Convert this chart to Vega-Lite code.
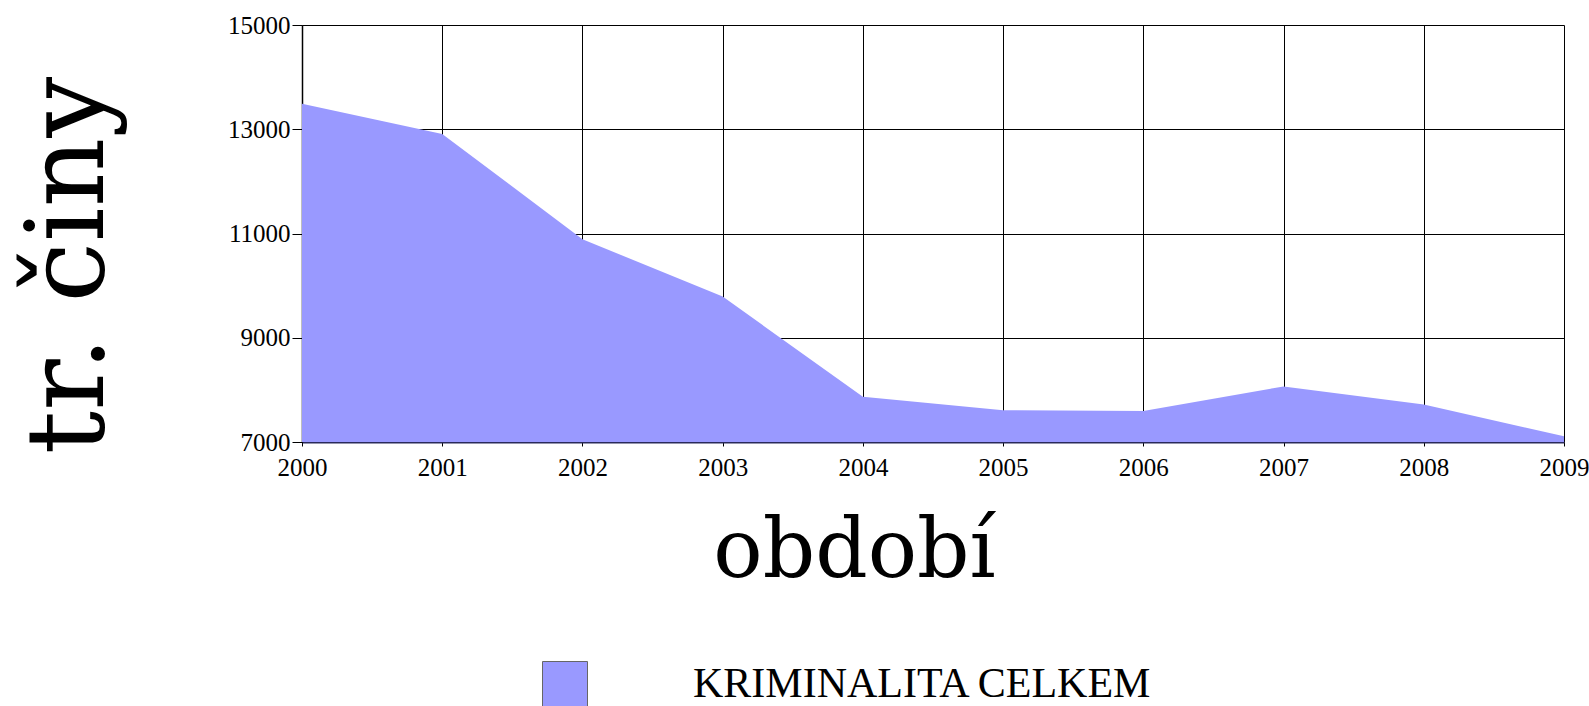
{
  "$schema": "https://vega.github.io/schema/vega-lite/v6.json",
  "autosize": "none",
  "padding": {"left": 302, "top": 25, "right": 25, "bottom": 264},
  "width": 1262,
  "height": 417,
  "background": "white",
  "config": {
    "view": {"stroke": null},
    "axis": {
      "labelFont": "Liberation Serif",
      "labelFontSize": 25,
      "labelColor": "black",
      "gridColor": "black",
      "gridOpacity": 1,
      "gridWidth": 1,
      "tickColor": "black",
      "domainColor": "black"
    }
  },
  "data": {
    "values": [
      {"rok": 2000, "pocet": 13490, "serie": "KRIMINALITA CELKEM"},
      {"rok": 2001, "pocet": 12910, "serie": "KRIMINALITA CELKEM"},
      {"rok": 2002, "pocet": 10890, "serie": "KRIMINALITA CELKEM"},
      {"rok": 2003, "pocet": 9790, "serie": "KRIMINALITA CELKEM"},
      {"rok": 2004, "pocet": 7870, "serie": "KRIMINALITA CELKEM"},
      {"rok": 2005, "pocet": 7610, "serie": "KRIMINALITA CELKEM"},
      {"rok": 2006, "pocet": 7595, "serie": "KRIMINALITA CELKEM"},
      {"rok": 2007, "pocet": 8065, "serie": "KRIMINALITA CELKEM"},
      {"rok": 2008, "pocet": 7720, "serie": "KRIMINALITA CELKEM"},
      {"rok": 2009, "pocet": 7110, "serie": "KRIMINALITA CELKEM"}
    ]
  },
  "mark": {"type": "area", "clip": true, "opacity": 1},
  "encoding": {
    "x": {
      "field": "rok",
      "type": "quantitative",
      "scale": {"domain": [2000, 2009], "nice": false, "zero": false},
      "axis": {
        "values": [2000, 2001, 2002, 2003, 2004, 2005, 2006, 2007, 2008, 2009],
        "format": "d",
        "tickSize": 4,
        "labelPadding": 9,
        "labelFlush": false,
        "labelOverlap": false,
        "domainColor": "#2a2a5a",
        "domainWidth": 2,
        "title": "období",
        "titleFont": "DejaVu Serif",
        "titleFontSize": 82,
        "titleFontWeight": "normal",
        "titleColor": "black",
        "titleAnchor": "start",
        "titleAlign": "center",
        "titleBaseline": "alphabetic",
        "titleX": 552,
        "titleY": 134
      }
    },
    "y": {
      "field": "pocet",
      "type": "quantitative",
      "scale": {"domain": [7000, 15000], "nice": false, "zero": false},
      "axis": {
        "values": [7000, 9000, 11000, 13000, 15000],
        "format": "d",
        "tickSize": 10,
        "labelPadding": 2,
        "labelBaseline": "middle",
        "labelFlush": false,
        "domainWidth": 1.5,
        "title": "tr. činy",
        "titleFont": "DejaVu Serif",
        "titleFontSize": 108,
        "titleFontWeight": "normal",
        "titleColor": "black",
        "titleAngle": 270,
        "titleAlign": "center",
        "titleBaseline": "alphabetic",
        "titleX": -200,
        "titleY": 240
      }
    },
    "color": {
      "field": "serie",
      "type": "nominal",
      "scale": {"range": ["#9999ff"]},
      "legend": {
        "orient": "none",
        "legendX": 240,
        "legendY": 636,
        "title": null,
        "padding": 0,
        "symbolType": "square",
        "symbolSize": 2025,
        "symbolStrokeColor": "#666666",
        "symbolStrokeWidth": 1,
        "symbolOpacity": 1,
        "labelFont": "Liberation Serif",
        "labelFontSize": 42,
        "labelColor": "black",
        "labelOffset": 105,
        "labelLimit": 0
      }
    }
  }
}
